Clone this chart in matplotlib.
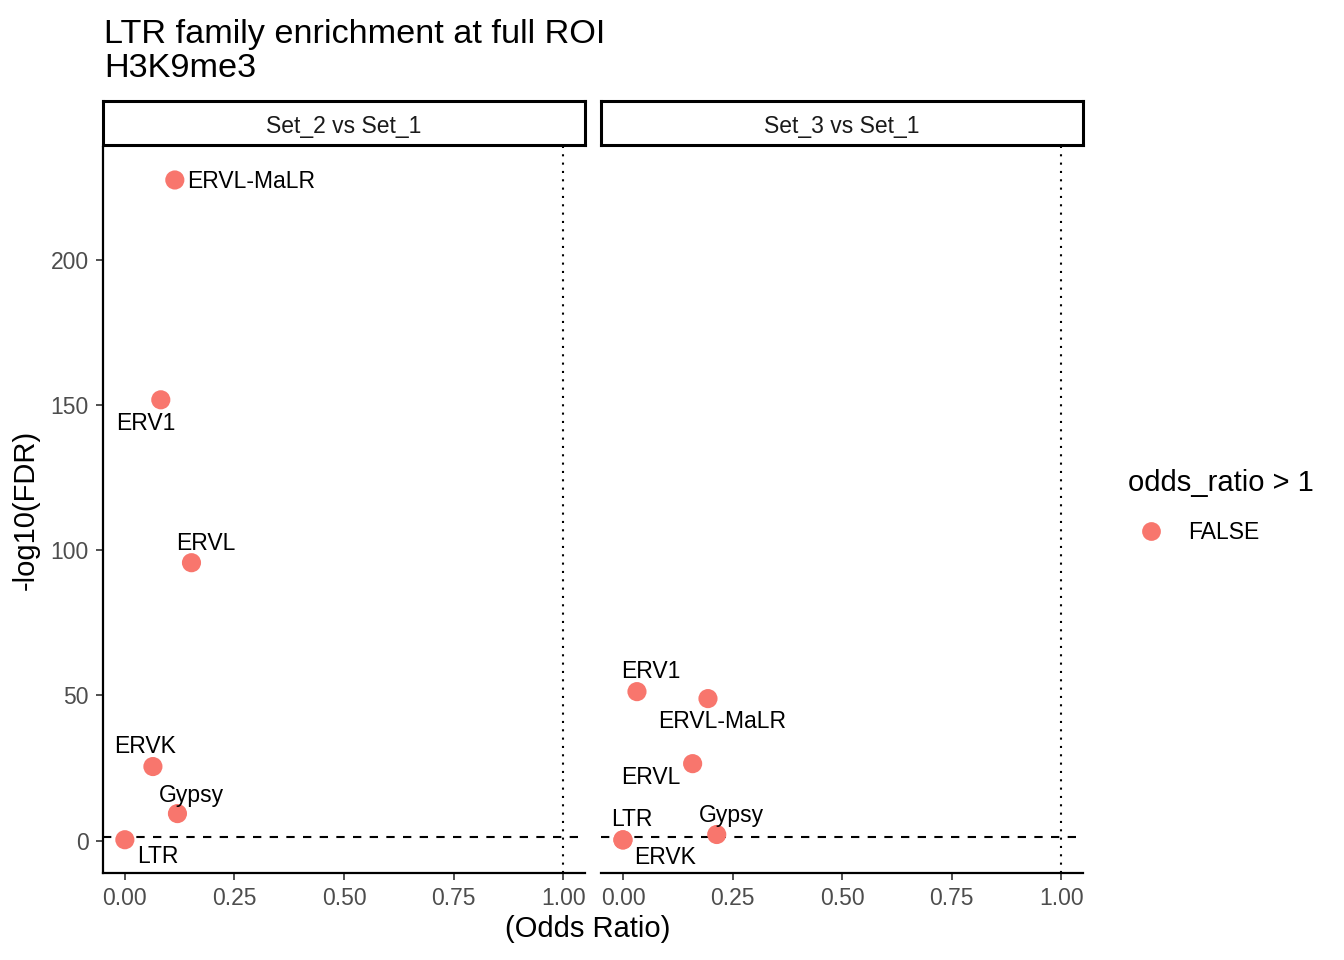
#!/usr/bin/env python3

import numpy as np
import matplotlib.pyplot as plt

plt.rcParams['font.family'] = ['Liberation Sans', 'DejaVu Sans']

# comparisons (facets)
comparisons = ["Set_2 vs Set_1", "Set_3 vs Set_1"]

# LTR families per comparison
families_1 = ["ERVL-MaLR", "ERV1", "ERVL", "ERVK", "Gypsy", "LTR"]
odds_1 = [0.114, 0.082, 0.152, 0.064, 0.120, 0.0]
fdr_1 = [227.5, 151.8, 95.7, 25.5, 9.3, 0.3]

families_2 = ["ERV1", "ERVL-MaLR", "ERVL", "Gypsy", "LTR", "ERVK"]
odds_2 = [0.032, 0.194, 0.159, 0.214, 0.0, 0.0]
fdr_2 = [51.3, 48.9, 26.5, 2.1, 0.3, 0.2]

# label offsets in pixels (repel-like placement)
offsets_1 = {"ERVL-MaLR": (76, -2), "ERV1": (-15, -24), "ERVL": (14, 19),
             "ERVK": (-8, 20), "Gypsy": (14, 18), "LTR": (33, -17)}
offsets_2 = {"ERV1": (14, 20), "ERVL-MaLR": (14, -23), "ERVL": (-42, -14),
             "Gypsy": (15, 19), "LTR": (9, 20), "ERVK": (42, -17)}

fdr_cut = -np.log10(0.05)
point_color = "#F8766D"


def main():
    fig = plt.figure(figsize=(13.44, 9.6), dpi=100)
    bottom, top = 0.0906, 0.8469
    lefts = [0.0766, 0.4472]
    width = 0.3587

    all_fdr = fdr_1 + fdr_2
    ymin, ymax = min(all_fdr), max(all_fdr)
    ypad = (ymax - ymin) * 0.05

    data = [(families_1, odds_1, fdr_1, offsets_1),
            (families_2, odds_2, fdr_2, offsets_2)]

    for i, (fam, odds, fdr, offs) in enumerate(data):
        ax = fig.add_axes([lefts[i], bottom, width, top - bottom])
        ax.axhline(fdr_cut, color="black", linestyle=(0, (4, 4)), linewidth=1.5, zorder=1)
        ax.axvline(1.0, color="black", linestyle=(0, (1, 3)), linewidth=1.5, zorder=1)
        ax.scatter(odds, fdr, s=190, color=point_color, edgecolors="none", zorder=3)
        for name, x, y in zip(fam, odds, fdr):
            dx, dy = offs[name]
            ax.annotate(name, (x, y), xytext=(dx, dy), textcoords="offset pixels",
                        ha="center", va="center", fontsize=16.5, color="black")
        ax.set_xlim(-0.05, 1.05)
        ax.set_ylim(ymin - ypad, ymax + ypad)
        ax.set_xticks([0, 0.25, 0.5, 0.75, 1.0])
        ax.set_xticklabels(["0.00", "0.25", "0.50", "0.75", "1.00"])
        ax.set_yticks([0, 50, 100, 150, 200])
        for s in ["top", "right"]:
            ax.spines[s].set_visible(False)
        ax.spines["bottom"].set_linewidth(1.6)
        ax.spines["left"].set_linewidth(1.6)
        ax.tick_params(axis="both", length=5.3, width=1.2, color="#333333",
                       labelsize=16.5, labelcolor="#4D4D4D", pad=5)
        if i == 1:
            ax.spines["left"].set_visible(False)
            ax.tick_params(axis="y", left=False, labelleft=False)
        else:
            ax.set_ylabel("-log10(FDR)", fontsize=21, labelpad=8)

        # facet strip
        sax = fig.add_axes([lefts[i], 0.849, width, 0.046])
        sax.set_xticks([])
        sax.set_yticks([])
        for s in sax.spines.values():
            s.set_linewidth(2.2)
        sax.text(0.5, 0.42, comparisons[i], ha="center", va="center", fontsize=16.5,
                 color="#1A1A1A", transform=sax.transAxes)

    fig.text(0.4375, 0.0175, "(Odds Ratio)", ha="center", va="bottom", fontsize=21)
    fig.text(0.0775, 0.913, "LTR family enrichment at full ROI\nH3K9me3", ha="left",
             va="bottom", fontsize=24.7, linespacing=1.12)

    # legend
    fig.text(0.8393, 0.497, "odds_ratio > 1", ha="left", va="center", fontsize=21)
    fig.legend(handles=[plt.Line2D([], [], marker="o", linestyle="none", markersize=13.5,
                                   markerfacecolor=point_color, markeredgecolor="none")],
               labels=["FALSE"], loc="center left", bbox_to_anchor=(0.824, 0.445),
               frameon=False, fontsize=16.5, handletextpad=0.63)

    fig.savefig("out.png", dpi=100)


if __name__ == "__main__":
    main()
